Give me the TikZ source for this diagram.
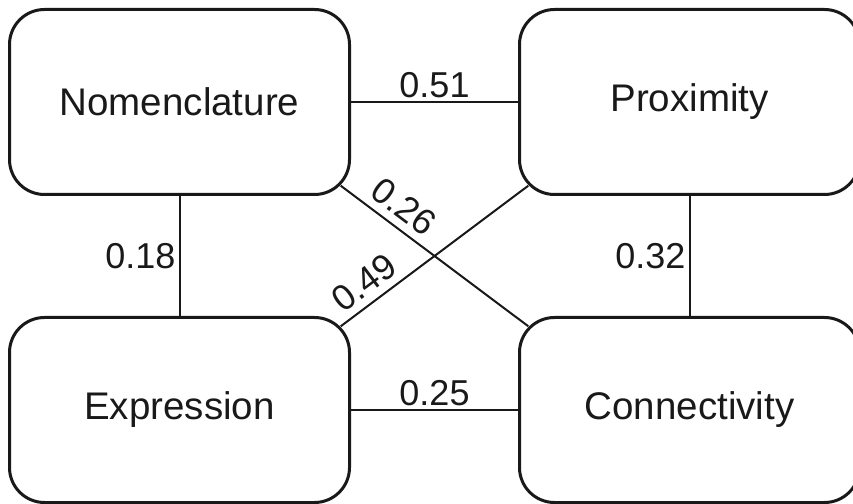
\documentclass[tikz,border=0pt]{standalone}
\usepackage{fontspec}
\setmainfont{Liberation Sans}
\usetikzlibrary{calc}
\begin{document}
\begin{tikzpicture}[x=1pt,y=1pt,
  box/.style={draw=black!90, line width=3pt, rounded corners=35pt, minimum width=340pt, minimum height=185pt, inner sep=0pt, font=\fontsize{38.5}{42}\selectfont, text=black!90},
  link/.style={draw=black!90, line width=2pt},
  lbl/.style={font=\fontsize{36}{40}\selectfont, text=black!90, inner sep=3pt},
  slbl/.style={lbl, sloped, above, inner sep=7pt}]
\useasboundingbox (0,0) rectangle (853,503);
\clip (0,0) rectangle (853,503);
\node[box] (nom) at (179.5,401) {Nomenclature};
\node[box] (prox) at (689.5,401) {Proximity};
\node[box] (expr) at (179.5,93) {Expression};
\node[box] (conn) at (689.5,93) {Connectivity};
\coordinate (nomc) at ($(nom.south east)+(-10.25,10.25)$);
\coordinate (proxc) at ($(prox.south west)+(10.25,10.25)$);
\coordinate (exprc) at ($(expr.north east)+(-10.25,-10.25)$);
\coordinate (connc) at ($(conn.north west)+(10.25,-10.25)$);
\draw[link] (nom.east) -- node[lbl, above] {0.51} (prox.west);
\draw[link] (expr.east) -- node[lbl, above] {0.25} (conn.west);
\draw[link] (nom.south) -- node[lbl, left] {0.18} (expr.north);
\draw[link] (prox.south) -- node[lbl, left] {0.32} (conn.north);
\draw[link] (nomc) -- node[slbl, pos=0.27] {0.26} (connc);
\draw[link] (exprc) -- node[slbl, pos=0.19] {0.49} (proxc);
\end{tikzpicture}
\end{document}
